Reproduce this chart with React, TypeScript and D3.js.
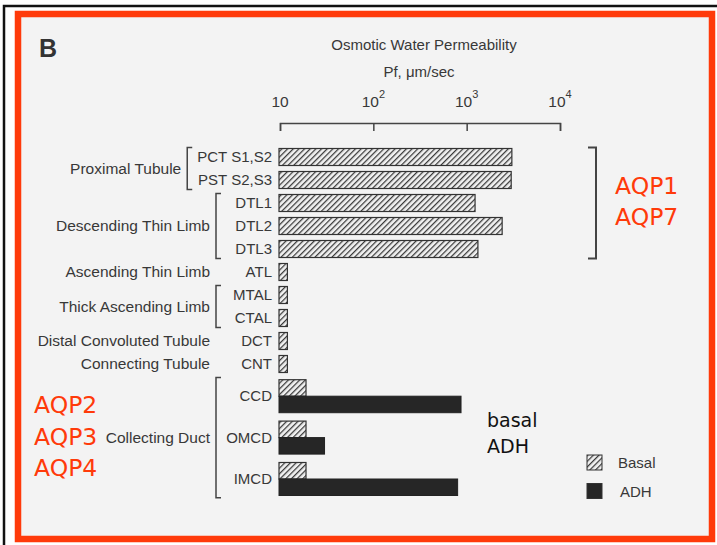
import React, { useRef, useEffect } from 'react';
import { select, scaleLog, scaleLinear, axisBottom, cumsum } from 'd3';

// nephron segments, top to bottom
const segments = ['PCT S1,S2', 'PST S2,S3', 'DTL1', 'DTL2', 'DTL3', 'ATL', 'MTAL', 'CTAL', 'DCT', 'CNT', 'CCD', 'OMCD', 'IMCD'];
// osmotic water permeability, um/sec
const basalPf = [3050, 3000, 1230, 2400, 1320, 12, 12, 12, 12, 12, 19, 19, 19];
const adhPf: (number | null)[] = [null, null, null, null, null, null, null, null, null, null, 870, 30, 800];
// collecting duct rows hold two bars
const rowWeights = [1, 1, 1, 1, 1, 1, 1, 1, 1, 1, 1.8, 1.8, 1.8];

const groupNames = ['Proximal Tubule', 'Descending Thin Limb', 'Ascending Thin Limb', 'Thick Ascending Limb', 'Distal Convoluted Tubule', 'Connecting Tubule', 'Collecting Duct'];
const groupSizes = [2, 3, 1, 2, 1, 1, 3];

const tickValues = [10, 100, 1000, 10000];
const tickExponents = ['', '2', '3', '4'];
const legendItems = ['Basal', 'ADH'];
const aqpRight = ['AQP1', 'AQP7'];
const aqpLeft = ['AQP2', 'AQP3', 'AQP4'];
const noteLines = ['basal', 'ADH'];

const FONT = '"Liberation Sans", Arial, sans-serif';
const HAND = '"DejaVu Sans", sans-serif';
const INK = '#383838';
const RED = '#ff3a0a';

export default function App() {
  const svgRef = useRef<SVGSVGElement>(null);

  useEffect(() => {
    const svg = select(svgRef.current);
    svg.selectAll('*').remove();

    const defs = svg.append('defs');
    const pat = defs
      .append('pattern')
      .attr('id', 'hatch')
      .attr('patternUnits', 'userSpaceOnUse')
      .attr('width', 4)
      .attr('height', 4)
      .attr('patternTransform', 'rotate(45)');
    pat.append('rect').attr('width', 4).attr('height', 4).attr('fill', '#f1f1f1');
    pat.append('line').attr('x1', 0.6).attr('y1', 0).attr('x2', 0.6).attr('y2', 4).attr('stroke', '#3a3a3a').attr('stroke-width', 1.3);

    // page and frames
    svg.append('rect').attr('width', 717).attr('height', 545).attr('fill', '#ffffff');
    svg.append('rect').attr('x', 4).attr('y', 6).attr('width', 730).attr('height', 560).attr('fill', 'none').attr('stroke', '#111').attr('stroke-width', 2.5);
    svg.append('rect').attr('x', 18).attr('y', 14).attr('width', 694).attr('height', 525).attr('fill', '#f3f3f3').attr('stroke', RED).attr('stroke-width', 6.5);

    const x = scaleLog().domain([10, 10000]).range([280, 560]);

    const offsets = [0, ...cumsum(rowWeights)];
    const total = offsets[offsets.length - 1];
    const y = scaleLinear().domain([0, total]).range([145.5, 145.5 + total * 23]);
    const center = (i: number) => y(offsets[i] + rowWeights[i] / 2);

    // title
    svg.append('text').attr('x', 39).attr('y', 57).text('B')
      .attr('font-family', FONT).attr('font-weight', 'bold').attr('font-size', 25).attr('fill', '#333');
    svg.append('text').attr('x', 424).attr('y', 50).attr('text-anchor', 'middle').text('Osmotic Water Permeability')
      .attr('font-family', FONT).attr('font-size', 15).attr('fill', INK);
    svg.append('text').attr('x', 419).attr('y', 77).attr('text-anchor', 'middle').text('Pf, \u03bcm/sec')
      .attr('font-family', FONT).attr('font-size', 15).attr('fill', INK);

    // axis on top, ticks pointing down
    const axisG = svg.append('g').attr('transform', 'translate(0,123)')
      .call(axisBottom(x).tickValues(tickValues).tickSize(8).tickFormat(() => ''));
    axisG.select('.domain').attr('stroke', '#444').attr('stroke-width', 1.5);
    axisG.selectAll('.tick line').attr('stroke', '#444').attr('stroke-width', 1.5);

    const tl = svg.append('g').selectAll('text').data(tickValues).join('text')
      .attr('x', (d) => x(d))
      .attr('y', 107)
      .attr('text-anchor', 'middle')
      .attr('font-family', FONT).attr('font-size', 15.5).attr('fill', INK);
    tl.append('tspan').text('10');
    tl.append('tspan').attr('dy', -9).attr('font-size', 11).text((d, i) => tickExponents[i]);

    // sub-segment labels
    const subLabels = svg.append('g').selectAll('text').data(segments).join('text')
      .attr('x', 272)
      .attr('y', (d, i) => center(i) + 5)
      .attr('text-anchor', 'end')
      .attr('font-family', FONT).attr('font-size', 15).attr('fill', INK)
      .text((d) => d);
    const lefts = subLabels.nodes().map((n) => (n as SVGTextElement).getBBox().x);

    // bars
    const barH = 17;
    const bars = svg.append('g');
    segments.forEach((s, i) => {
      const c = center(i);
      const paired = adhPf[i] !== null;
      bars.append('rect')
        .attr('x', x(10) - 1)
        .attr('y', paired ? c - 16.5 : c - barH / 2)
        .attr('width', x(basalPf[i]) - x(10) + 1)
        .attr('height', paired ? 16.5 : barH)
        .attr('fill', 'url(#hatch)').attr('stroke', '#333').attr('stroke-width', 1.2);
      if (paired) {
        bars.append('rect')
          .attr('x', x(10) - 1)
          .attr('y', c)
          .attr('width', x(adhPf[i] as number) - x(10) + 1)
          .attr('height', 16.5)
          .attr('fill', '#262626').attr('stroke', '#222').attr('stroke-width', 1);
      }
    });

    // group labels and brackets
    let start = 0;
    groupNames.forEach((name, g) => {
      const n = groupSizes[g];
      const end = start + n - 1;
      const top = y(offsets[start]) + 2;
      const bottom = y(offsets[end + 1]) - 2;
      const mid = (center(start) + center(end)) / 2;
      let labelX = 210;
      if (n > 1) {
        const bx = Math.min(Math.min(...lefts.slice(start, end + 1)) - 10, 216);
        svg.append('path')
          .attr('d', `M${bx + 5},${top}H${bx}V${bottom}H${bx + 5}`)
          .attr('fill', 'none').attr('stroke', '#444').attr('stroke-width', 1.5);
        labelX = Math.min(bx - 6, 210);
      }
      svg.append('text').attr('x', labelX).attr('y', mid + 5).attr('text-anchor', 'end')
        .attr('font-family', FONT).attr('font-size', 15.5).attr('fill', INK).text(name);
      start = end + 1;
    });

    // right bracket around AQP1/AQP7 segments
    const rTop = y(offsets[0]) + 2;
    const rBottom = y(offsets[5]) - 2;
    svg.append('path').attr('d', `M588,${rTop}H596V${rBottom}H588`)
      .attr('fill', 'none').attr('stroke', '#444').attr('stroke-width', 2);

    svg.append('g').selectAll('text').data(aqpRight).join('text')
      .attr('x', 615).attr('y', (d, i) => 194 + i * 31)
      .attr('font-family', HAND).attr('font-size', 23.5).attr('fill', RED).text((d) => d);
    svg.append('g').selectAll('text').data(aqpLeft).join('text')
      .attr('x', 34).attr('y', (d, i) => 413 + i * 31.5)
      .attr('font-family', HAND).attr('font-size', 23.5).attr('fill', RED).text((d) => d);
    svg.append('g').selectAll('text').data(noteLines).join('text')
      .attr('x', 487).attr('y', (d, i) => 427 + i * 26)
      .attr('font-family', HAND).attr('font-size', 19).attr('fill', '#111').text((d) => d);

    // legend
    const leg = svg.append('g').selectAll('g').data(legendItems).join('g')
      .attr('transform', (d, i) => `translate(587,${455 + i * 28.5})`);
    leg.append('rect').attr('width', 15).attr('height', 15)
      .attr('fill', (d, i) => (i === 0 ? 'url(#hatch)' : '#262626'))
      .attr('stroke', '#333').attr('stroke-width', 1);
    leg.append('text').attr('x', (d, i) => (i === 0 ? 31 : 33)).attr('y', 13)
      .attr('font-family', FONT).attr('font-size', 15).attr('fill', INK).text((d) => d);
  }, []);

  return (
    <svg
      ref={svgRef}
      width={717}
      height={545}
      style={{ position: 'absolute', left: 0, top: 0, display: 'block' }}
    />
  );
}
